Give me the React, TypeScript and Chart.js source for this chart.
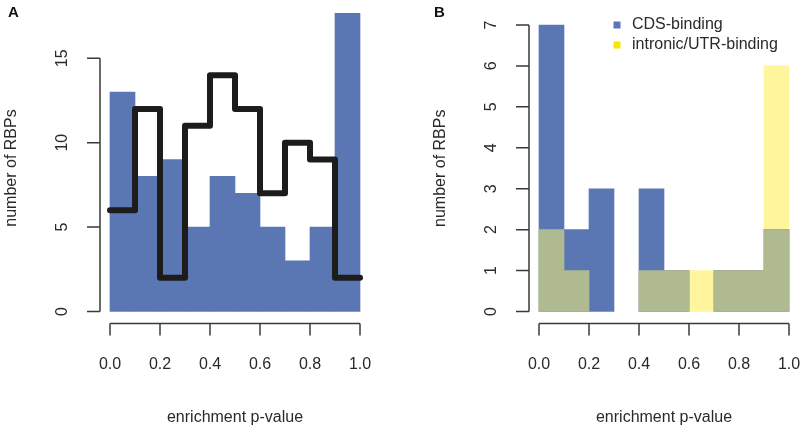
import React, { useEffect, useRef } from "react";
import { Chart, registerables } from "chart.js";

Chart.register(...registerables);

// ---- data ----
const binEdges = [0, 0.1, 0.2, 0.3, 0.4, 0.5, 0.6, 0.7, 0.8, 0.9, 1.0];
const panelAHist = [13, 8, 9, 5, 8, 7, 5, 3, 5, 18];
const panelALine = [6, 12, 2, 11, 14, 12, 7, 10, 9, 2];
const cdsCounts = [7, 2, 3, 0, 3, 1, 0, 1, 1, 2];
const utrCounts = [2, 1, 0, 0, 1, 1, 1, 1, 1, 6];
const xTickValues = [0, 0.2, 0.4, 0.6, 0.8, 1.0];
const xTickLabels = ["0.0", "0.2", "0.4", "0.6", "0.8", "1.0"];
const yTicksA = [0, 5, 10, 15];
const yTicksB = [0, 1, 2, 3, 4, 5, 6, 7];
const legendLabels = ["CDS-binding", "intronic/UTR-binding"];

const BLUE = "#5b77b3";
const YELLOW_LIGHT = "#fff59d";
const OLIVE = "#b0ba90";
const YELLOW_KEY = "#f5e800";
const FONT = "'Liberation Sans', Arial, Helvetica, sans-serif";
const TEXT = "#2a2a2a";
const AXIS = "#3a3a3a";

const centers = binEdges.slice(0, -1).map((e, i) => (e + binEdges[i + 1]) / 2);
const toBars = (vals: number[]) =>
  vals.map((v, i) => ({ x: centers[i], y: v === 0 ? null : v }));
const toSteps = (vals: number[]) => {
  const pts = vals.map((v, i) => ({ x: binEdges[i], y: v }));
  pts.push({ x: binEdges[binEdges.length - 1], y: vals[vals.length - 1] });
  return pts;
};

type AxesCfg = {
  yTicks: number[];
  panel: string;
  panelX: number;
  legend?: boolean;
};

function rAxes(cfg: AxesCfg) {
  return {
    id: "rAxes",
    afterDraw(chart: any) {
      const ctx: CanvasRenderingContext2D = chart.ctx;
      const xs = chart.scales.x;
      const ys = chart.scales.y;
      const area = chart.chartArea;
      ctx.save();
      ctx.strokeStyle = AXIS;
      ctx.lineWidth = 1.5;
      ctx.fillStyle = TEXT;
      ctx.font = `16px ${FONT}`;
      // y axis
      const yTop = ys.getPixelForValue(cfg.yTicks[cfg.yTicks.length - 1]);
      const yBot = ys.getPixelForValue(cfg.yTicks[0]);
      const ax = area.left;
      ctx.beginPath();
      ctx.moveTo(ax, yTop);
      ctx.lineTo(ax, yBot);
      cfg.yTicks.forEach((t) => {
        const py = ys.getPixelForValue(t);
        ctx.moveTo(ax - 13, py);
        ctx.lineTo(ax, py);
      });
      ctx.stroke();
      cfg.yTicks.forEach((t) => {
        const py = ys.getPixelForValue(t);
        ctx.save();
        ctx.translate(ax - 37.5, py);
        ctx.rotate(-Math.PI / 2);
        ctx.textAlign = "center";
        ctx.textBaseline = "middle";
        ctx.fillText(String(t), 0, 0);
        ctx.restore();
      });
      ctx.save();
      ctx.translate(ax - 88, (area.top + area.bottom) / 2);
      ctx.rotate(-Math.PI / 2);
      ctx.textAlign = "center";
      ctx.textBaseline = "middle";
      ctx.fillText("number of RBPs", 0, 0);
      ctx.restore();
      // x axis
      const by = area.bottom + 0.5;
      const xL = xs.getPixelForValue(xTickValues[0]);
      const xR = xs.getPixelForValue(xTickValues[xTickValues.length - 1]);
      ctx.beginPath();
      ctx.moveTo(xL, by);
      ctx.lineTo(xR, by);
      xTickValues.forEach((t) => {
        const px = xs.getPixelForValue(t);
        ctx.moveTo(px, by);
        ctx.lineTo(px, by + 12);
      });
      ctx.stroke();
      ctx.textAlign = "center";
      ctx.textBaseline = "middle";
      xTickValues.forEach((t, i) => {
        ctx.fillText(xTickLabels[i], xs.getPixelForValue(t), by + 41);
      });
      ctx.fillText("enrichment p-value", (area.left + area.right) / 2, by + 94);
      // panel letter
      ctx.font = `bold 15px ${FONT}`;
      ctx.fillStyle = "#111";
      ctx.textAlign = "left";
      ctx.fillText(cfg.panel, cfg.panelX, 13);
      // legend
      if (cfg.legend) {
        ctx.font = `16px ${FONT}`;
        const keys = [BLUE, YELLOW_KEY];
        legendLabels.forEach((lab, i) => {
          const cy = 25 + i * 20;
          ctx.fillStyle = keys[i];
          ctx.fillRect(213.5, cy - 3.5, 7, 7);
          ctx.fillStyle = TEXT;
          ctx.textAlign = "left";
          ctx.fillText(lab, 232, cy);
        });
      }
      ctx.restore();
    },
  };
}

function baseScales(yMin: number, yMax: number) {
  return {
    x: { type: "linear" as const, min: -0.04, max: 1.04, offset: false, display: false },
    y: { type: "linear" as const, min: yMin, max: yMax, display: false },
  };
}

export default function App() {
  const refA = useRef<HTMLCanvasElement>(null);
  const refB = useRef<HTMLCanvasElement>(null);

  useEffect(() => {
    document.body.style.margin = "0";
    const chartA = new Chart(refA.current!, {
      type: "bar",
      data: {
        datasets: [
          {
            type: "line",
            data: toSteps(panelALine),
            borderColor: "#1c1c1c",
            borderWidth: 6,
            stepped: "before",
            pointRadius: 0,
            borderCapStyle: "round",
            borderJoinStyle: "round",
            fill: false,
            order: 0,
          } as any,
          {
            type: "bar",
            data: toBars(panelAHist),
            backgroundColor: BLUE,
            borderWidth: 0,
            barPercentage: 1,
            categoryPercentage: 1,
            grouped: false,
            order: 1,
          } as any,
        ],
      },
      options: {
        responsive: false,
        animation: false,
        layout: { padding: { left: 100, right: 30, top: 13, bottom: 104 } },
        plugins: { legend: { display: false }, tooltip: { enabled: false } },
        scales: baseScales(-0.68, 17.68),
      },
      plugins: [rAxes({ yTicks: yTicksA, panel: "A", panelX: 8 })],
    });

    const overlap = cdsCounts.map((v, i) => Math.min(v, utrCounts[i]));
    const barCommon = {
      type: "bar",
      borderWidth: 0,
      barPercentage: 1,
      categoryPercentage: 1,
      grouped: false,
    };
    const chartB = new Chart(refB.current!, {
      type: "bar",
      data: {
        datasets: [
          { ...barCommon, label: "overlap", data: toBars(overlap), backgroundColor: OLIVE, order: 0 } as any,
          { ...barCommon, label: legendLabels[0], data: toBars(cdsCounts), backgroundColor: BLUE, order: 1 } as any,
          { ...barCommon, label: legendLabels[1], data: toBars(utrCounts), backgroundColor: YELLOW_LIGHT, order: 2 } as any,
        ],
      },
      options: {
        responsive: false,
        animation: false,
        layout: { padding: { left: 129, right: 1, top: 13.5, bottom: 104 } },
        plugins: { legend: { display: false }, tooltip: { enabled: false } },
        scales: baseScales(-0.28, 7.28),
      },
      plugins: [rAxes({ yTicks: yTicksB, panel: "B", panelX: 34, legend: true })],
    });

    return () => {
      chartA.destroy();
      chartB.destroy();
    };
  }, []);

  return (
    <div style={{ position: "absolute", left: 0, top: 0, width: 800, height: 427, background: "#fff" }}>
      <canvas ref={refA} width={400} height={427} style={{ position: "absolute", left: 0, top: 0, width: 400, height: 427 }} />
      <canvas ref={refB} width={400} height={427} style={{ position: "absolute", left: 400, top: 0, width: 400, height: 427 }} />
    </div>
  );
}
